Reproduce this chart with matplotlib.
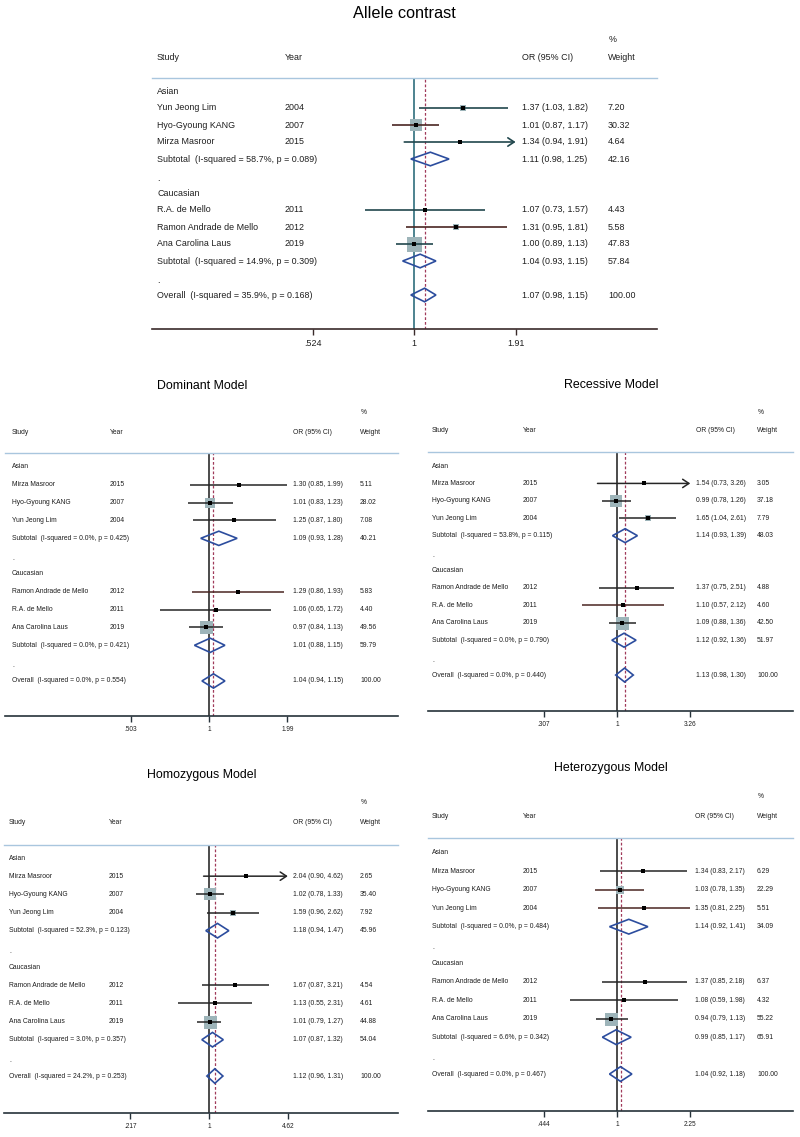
import numpy as np
import matplotlib
matplotlib.use("Agg")
import matplotlib.pyplot as plt
from matplotlib import transforms, font_manager

# ---------------- data ----------------
group_names = ["Asian", "Caucasian"]

# Allele contrast
allele_study = ["Yun Jeong Lim", "Hyo-Gyoung KANG", "Mirza Masroor",
                "R.A. de Mello", "Ramon Andrade de Mello", "Ana Carolina Laus"]
allele_year = [2004, 2007, 2015, 2011, 2012, 2019]
allele_or = [1.37, 1.01, 1.34, 1.07, 1.31, 1.00]
allele_lo = [1.03, 0.87, 0.94, 0.73, 0.95, 0.89]
allele_hi = [1.82, 1.17, 1.91, 1.57, 1.81, 1.13]
allele_w = [7.20, 30.32, 4.64, 4.43, 5.58, 47.83]
allele_sub_or = [1.11, 1.04]
allele_sub_lo = [0.98, 0.93]
allele_sub_hi = [1.25, 1.15]
allele_sub_w = [42.16, 57.84]
allele_sub_i2 = [58.7, 14.9]
allele_sub_p = [0.089, 0.309]
allele_total = [1.07, 0.98, 1.15, 100.00, 35.9, 0.168]
allele_ticks = [0.524, 1, 1.91]
allele_ticklabels = [".524", "1", "1.91"]

model_study = ["Mirza Masroor", "Hyo-Gyoung KANG", "Yun Jeong Lim",
               "Ramon Andrade de Mello", "R.A. de Mello", "Ana Carolina Laus"]
model_year = [2015, 2007, 2004, 2012, 2011, 2019]

# Dominant model
dom_or = [1.30, 1.01, 1.25, 1.29, 1.06, 0.97]
dom_lo = [0.85, 0.83, 0.87, 0.86, 0.65, 0.84]
dom_hi = [1.99, 1.23, 1.80, 1.93, 1.72, 1.13]
dom_w = [5.11, 28.02, 7.08, 5.83, 4.40, 49.56]
dom_sub_or = [1.09, 1.01]
dom_sub_lo = [0.93, 0.88]
dom_sub_hi = [1.28, 1.15]
dom_sub_w = [40.21, 59.79]
dom_sub_i2 = [0.0, 0.0]
dom_sub_p = [0.425, 0.421]
dom_total = [1.04, 0.94, 1.15, 100.00, 0.0, 0.554]
dom_ticks = [0.503, 1, 1.99]
dom_ticklabels = [".503", "1", "1.99"]

# Recessive model
rec_or = [1.54, 0.99, 1.65, 1.37, 1.10, 1.09]
rec_lo = [0.73, 0.78, 1.04, 0.75, 0.57, 0.88]
rec_hi = [3.26, 1.26, 2.61, 2.51, 2.12, 1.36]
rec_w = [3.05, 37.18, 7.79, 4.88, 4.60, 42.50]
rec_sub_or = [1.14, 1.12]
rec_sub_lo = [0.93, 0.92]
rec_sub_hi = [1.39, 1.36]
rec_sub_w = [48.03, 51.97]
rec_sub_i2 = [53.8, 0.0]
rec_sub_p = [0.115, 0.790]
rec_total = [1.13, 0.98, 1.30, 100.00, 0.0, 0.440]
rec_ticks = [0.307, 1, 3.26]
rec_ticklabels = [".307", "1", "3.26"]

# Homozygous model
hom_or = [2.04, 1.02, 1.59, 1.67, 1.13, 1.01]
hom_lo = [0.90, 0.78, 0.96, 0.87, 0.55, 0.79]
hom_hi = [4.62, 1.33, 2.62, 3.21, 2.31, 1.27]
hom_w = [2.65, 35.40, 7.92, 4.54, 4.61, 44.88]
hom_sub_or = [1.18, 1.07]
hom_sub_lo = [0.94, 0.87]
hom_sub_hi = [1.47, 1.32]
hom_sub_w = [45.96, 54.04]
hom_sub_i2 = [52.3, 3.0]
hom_sub_p = [0.123, 0.357]
hom_total = [1.12, 0.96, 1.31, 100.00, 24.2, 0.253]
hom_ticks = [0.217, 1, 4.62]
hom_ticklabels = [".217", "1", "4.62"]

# Heterozygous model
het_or = [1.34, 1.03, 1.35, 1.37, 1.08, 0.94]
het_lo = [0.83, 0.78, 0.81, 0.85, 0.59, 0.79]
het_hi = [2.17, 1.35, 2.25, 2.18, 1.98, 1.13]
het_w = [6.29, 22.29, 5.51, 6.37, 4.32, 55.22]
het_sub_or = [1.14, 0.99]
het_sub_lo = [0.92, 0.85]
het_sub_hi = [1.41, 1.17]
het_sub_w = [34.09, 65.91]
het_sub_i2 = [0.0, 6.6]
het_sub_p = [0.484, 0.342]
het_total = [1.04, 0.92, 1.18, 100.00, 0.0, 0.467]
het_ticks = [0.444, 1, 2.25]
het_ticklabels = [".444", "1", "2.25"]

# ---------------- figure ----------------
W, H = 800, 1137
fig = plt.figure(figsize=(W / 100, H / 100), dpi=100)

names = {f.name for f in font_manager.fontManager.ttflist}
HAS_NARROW = 'Liberation Sans Narrow' in names
REG = 'Liberation Sans'
NAR = 'Liberation Sans Narrow' if HAS_NARROW else 'Liberation Sans'
NF = 1.0 if HAS_NARROW else 0.82

TXT = "#1e1e1e"
SQ = "#9db4b9"
DIA = "#2c4d9e"
DASH = "#a03a5a"


def fx(px):
    return px / W


def fy(py):
    return 1 - py / H


def draw_panel(title, study, year, ors, los, his, ws, s_or, s_lo, s_hi, s_w, s_i2, s_p,
               total, ticks, ticklabels, g):
    ax = fig.add_axes([fx(g['ax_l']), fy(g['axis']), (g['ax_r'] - g['ax_l']) / W,
                       (g['axis'] - g['sep']) / H])
    ax.set_xscale('log')
    ax.set_xlim(np.exp((g['ax_l'] - g['x1']) / g['scale']),
                np.exp((g['ax_r'] - g['x1']) / g['scale']))
    ax.set_ylim((g['axis'] - g['row0']) / g['dy'], (g['sep'] - g['row0']) / g['dy'])
    ax.patch.set_alpha(0)
    for s in ['left', 'right']:
        ax.spines[s].set_visible(False)
    ax.spines['top'].set_color("#a9c6de")
    ax.spines['top'].set_linewidth(1.0)
    ax.spines['bottom'].set_color(g['axcol'])
    ax.spines['bottom'].set_linewidth(1.2)
    ax.set_yticks([])
    ax.set_xticks(ticks)
    ax.set_xticklabels(ticklabels, fontsize=g['tfs'], family=g['fam'], color=TXT)
    ax.minorticks_off()
    ax.tick_params(axis='x', direction='out', length=4, width=1.0, color=g['axcol'],
                   pad=g['tpad'])

    # reference lines
    ax.axvline(1, color=g['vcol'], lw=1.1, zorder=1)
    ax.axvline(total[0], color=DASH, lw=0.9, ls=(0, (2.2, 1.6)), zorder=1)

    tr = transforms.blended_transform_factory(fig.transFigure, ax.transData)
    fs = g['fs']
    fam = g['fam']

    def t(xpx, row, s, **kw):
        ax.text(fx(xpx), row, s, transform=tr, fontsize=fs, family=fam, color=TXT,
                va='center', ha='left', **kw)

    wmax = max(ws)
    for gi in range(2):
        base = gi * 6
        t(g['c_study'], base, group_names[gi])
        for k in range(3):
            i = gi * 3 + k
            r = base + 1 + k
            side = g['smax'] * np.sqrt(ws[i] / wmax)
            ax.scatter([ors[i]], [r], marker='s', s=(side * 0.72) ** 2, color=SQ,
                       linewidths=0, zorder=2)
            col = g['cicol'][i]
            if his[i] >= ticks[-1] - 1e-9 and g['arrow'][i]:
                ax.annotate('', xy=(his[i], r), xytext=(los[i], r),
                            arrowprops=dict(arrowstyle='->,head_length=0.45,head_width=0.3',
                                            color=col, lw=g['cilw'], shrinkA=0, shrinkB=0),
                            zorder=3)
            else:
                ax.plot([los[i], his[i]], [r, r], color=col, lw=g['cilw'], zorder=3,
                        solid_capstyle='butt')
            ax.scatter([ors[i]], [r], marker='s', s=(g['dot'] * 0.72) ** 2, color='black',
                       linewidths=0, zorder=4)
            t(g['c_study'], r, study[i])
            t(g['c_year'], r, str(year[i]))
            t(g['c_or'], r, f"{ors[i]:.2f} ({los[i]:.2f}, {his[i]:.2f})")
            t(g['c_w'], r, f"{ws[i]:.2f}")
        r = base + 4
        h = 0.4
        ax.fill([s_lo[gi], s_or[gi], s_hi[gi], s_or[gi]], [r, r - h, r, r + h],
                fill=False, edgecolor=DIA, lw=1.2, zorder=3)
        t(g['c_study'], r, f"Subtotal  (I-squared = {s_i2[gi]:.1f}%, p = {s_p[gi]:.3f})")
        t(g['c_or'], r, f"{s_or[gi]:.2f} ({s_lo[gi]:.2f}, {s_hi[gi]:.2f})")
        t(g['c_w'], r, f"{s_w[gi]:.2f}")
        t(g['c_study'], base + 5.15, ".")
    r = 12
    h = 0.4
    ax.fill([total[1], total[0], total[2], total[0]], [r, r - h, r, r + h],
            fill=False, edgecolor=DIA, lw=1.2, zorder=3)
    t(g['c_study'], r, f"Overall  (I-squared = {total[4]:.1f}%, p = {total[5]:.3f})")
    t(g['c_or'], r, f"{total[0]:.2f} ({total[1]:.2f}, {total[2]:.2f})")
    t(g['c_w'], r, f"{total[3]:.2f}")

    # headers and title
    for xpx, s in [(g['c_study'], "Study"), (g['c_year'], "Year"),
                   (g['c_or'], "OR (95% CI)"), (g['c_w'], "Weight")]:
        fig.text(fx(xpx), fy(g['hdr']), s, fontsize=fs, family=fam, color=TXT,
                 va='center', ha='left')
    fig.text(fx(g['c_w'] + 1), fy(g['pct']), "%", fontsize=fs, family=fam, color=TXT,
             va='center', ha='left')
    fig.text(fx(g['tx']), fy(g['ty']), title, fontsize=g['tifs'], family=g['tifam'],
             color='black', va='center', ha='center')


dark = "#262626"
red = "#4a2622"
teal = "#21474d"

geo_allele = dict(ax_l=152, ax_r=657, sep=78, axis=329, row0=91, dy=17.0, x1=414,
                  scale=157, tx=404, ty=14, c_study=157, c_year=285, c_or=522, c_w=608,
                  hdr=57, pct=40, fs=6.4, fam=REG, tfs=6.4, tpad=3.5, tifs=11.7, tifam=REG,
                  smax=15, dot=4.5, cilw=1.2, vcol="#1d6272", axcol="#3a2a2a",
                  cicol=[teal, red, teal, teal, red, teal], arrow=[True] * 6)
lower_common = dict(fs=5.9 * NF if HAS_NARROW else 4.9, fam=NAR,
                    tfs=5.6 if HAS_NARROW else 4.7, tpad=3.0,
                    tifs=10.8 if HAS_NARROW else 8.9, tifam=NAR,
                    smax=13, dot=4.0, cilw=1.1, vcol="#1a1a1a", axcol="#26323a")
geo_dom = dict(ax_l=5, ax_r=398, sep=453, axis=716, row0=467, dy=17.83, x1=209, scale=114,
               tx=202, ty=386, c_study=12, c_year=110, c_or=293, c_w=360, hdr=432, pct=413,
               cicol=[dark, dark, dark, red, dark, dark],
               arrow=[False, True, True, True, True, True], **lower_common)
geo_rec = dict(ax_l=428, ax_r=793, sep=452, axis=711, row0=466, dy=17.42, x1=617, scale=62,
               tx=611, ty=385, c_study=432, c_year=523, c_or=696, c_w=757, hdr=431, pct=413,
               cicol=[dark, dark, dark, dark, red, dark], arrow=[True] * 6, **lower_common)
geo_hom = dict(ax_l=4, ax_r=398, sep=845, axis=1113, row0=858, dy=18.17, x1=209, scale=51.5,
               tx=202, ty=775, c_study=9, c_year=109, c_or=293, c_w=360, hdr=822, pct=803,
               cicol=[dark] * 6, arrow=[True] * 6, **lower_common)
geo_het = dict(ax_l=428, ax_r=793, sep=838, axis=1111, row0=853, dy=18.42, x1=617, scale=90,
               tx=611, ty=768, c_study=432, c_year=523, c_or=695, c_w=757, hdr=817, pct=797,
               cicol=[dark, red, red, dark, dark, dark], arrow=[False] * 6, **lower_common)

draw_panel("Allele contrast", allele_study, allele_year, allele_or, allele_lo, allele_hi,
           allele_w, allele_sub_or, allele_sub_lo, allele_sub_hi, allele_sub_w,
           allele_sub_i2, allele_sub_p, allele_total, allele_ticks, allele_ticklabels,
           geo_allele)
draw_panel("Dominant Model", model_study, model_year, dom_or, dom_lo, dom_hi, dom_w,
           dom_sub_or, dom_sub_lo, dom_sub_hi, dom_sub_w, dom_sub_i2, dom_sub_p,
           dom_total, dom_ticks, dom_ticklabels, geo_dom)
draw_panel("Recessive Model", model_study, model_year, rec_or, rec_lo, rec_hi, rec_w,
           rec_sub_or, rec_sub_lo, rec_sub_hi, rec_sub_w, rec_sub_i2, rec_sub_p,
           rec_total, rec_ticks, rec_ticklabels, geo_rec)
draw_panel("Homozygous Model", model_study, model_year, hom_or, hom_lo, hom_hi, hom_w,
           hom_sub_or, hom_sub_lo, hom_sub_hi, hom_sub_w, hom_sub_i2, hom_sub_p,
           hom_total, hom_ticks, hom_ticklabels, geo_hom)
draw_panel("Heterozygous Model", model_study, model_year, het_or, het_lo, het_hi, het_w,
           het_sub_or, het_sub_lo, het_sub_hi, het_sub_w, het_sub_i2, het_sub_p,
           het_total, het_ticks, het_ticklabels, geo_het)

fig.savefig("out.png", dpi=100)
